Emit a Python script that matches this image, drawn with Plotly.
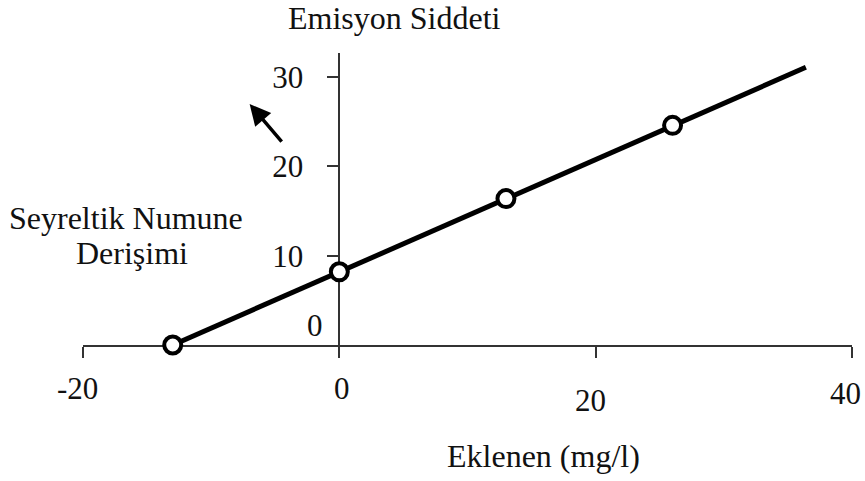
import plotly.graph_objects as go

# ---- data ----
added = [-13, 0, 13, 26]            # Eklenen (mg/l)
intensity = [0, 8.2, 16.4, 24.6]    # Emisyon Siddeti
line_x = [-13, 0, 13, 26, 36.4]
line_y = [0, 8.2, 16.4, 24.6, 31.1]
x_ticks = [-20, 0, 20, 40]
x_tick_labels = ["-20", "0", "20", "40"]
y_ticks = [0, 10, 20, 30]
arrow_tip = (-7.0, 27.0)
arrow_tail = (-4.4, 22.6)

# ---- style (label offsets in pixels) ----
x_label_shift = [(-6, -43), (3, -43), (-5, -55), (-7, -48)]

FONT = "Liberation Serif, Times New Roman, serif"
TXT = "#111111"

fig = go.Figure()
fig.add_trace(go.Scatter(x=line_x, y=line_y, mode="lines",
                         line=dict(color="black", width=5), hoverinfo="skip",
                         cliponaxis=False, showlegend=False))
fig.add_trace(go.Scatter(x=added, y=intensity, mode="markers",
                         marker=dict(symbol="circle", size=17, color="white",
                                     line=dict(color="black", width=4)),
                         cliponaxis=False, showlegend=False))

W, H = 865, 481
L, R, T, B = 83, 13, 53, 136
pw, ph = W - L - R, H - T - B

def px(xp):
    return (xp - L) / pw

def py(yp):
    return (H - B - yp) / ph

fig.update_layout(
    width=W, height=H,
    margin=dict(l=L, r=R, t=T, b=B),
    paper_bgcolor="white", plot_bgcolor="white",
    font=dict(family=FONT, size=31, color=TXT),
    xaxis=dict(range=[-20, 40], tickvals=x_ticks, ticks="outside", ticklen=11,
               tickwidth=2, tickcolor="#333", showline=True, linecolor="#333",
               linewidth=2, showgrid=False, zeroline=False,
               showticklabels=False, domain=[0, 1], layer="below traces"),
    yaxis=dict(range=[0, 32.7], tickvals=y_ticks[1:], ticks="outside", ticklen=11,
               tickwidth=2, tickcolor="#333", showline=True, linecolor="#333",
               linewidth=2, showgrid=False, zeroline=False, anchor="free",
               position=1/3, ticklabelstandoff=18, layer="below traces"),
)

for v, lab, (dx, dy) in zip(x_ticks, x_tick_labels, x_label_shift):
    fig.add_annotation(x=v, y=0, xref="x", yref="y", text=lab, showarrow=False,
                       xanchor="center", yanchor="middle", xshift=dx, yshift=dy,
                       font=dict(size=31))

fig.add_annotation(x=0, y=y_ticks[0], xref="x", yref="y", text=str(y_ticks[0]),
                   showarrow=False, xanchor="right", yanchor="middle",
                   xshift=-14, yshift=20, font=dict(size=31))

fig.add_annotation(x=arrow_tip[0], y=arrow_tip[1], ax=arrow_tail[0], ay=arrow_tail[1],
                   xref="x", yref="y", axref="x", ayref="y", text="",
                   showarrow=True, arrowhead=2, arrowsize=1.2, arrowwidth=3.5,
                   arrowcolor="black")

titles = [
    ("Emisyon Siddeti", 394, 18),
    ("Seyreltik Numune", 126, 218),
    ("Derişimi", 132, 253),
    ("Eklenen (mg/l)", 543, 456),
]
for text, xp, yp in titles:
    fig.add_annotation(x=px(xp), y=py(yp), xref="paper", yref="paper", text=text,
                       showarrow=False, xanchor="center", yanchor="middle",
                       font=dict(size=32))

fig.write_html("out.html")
